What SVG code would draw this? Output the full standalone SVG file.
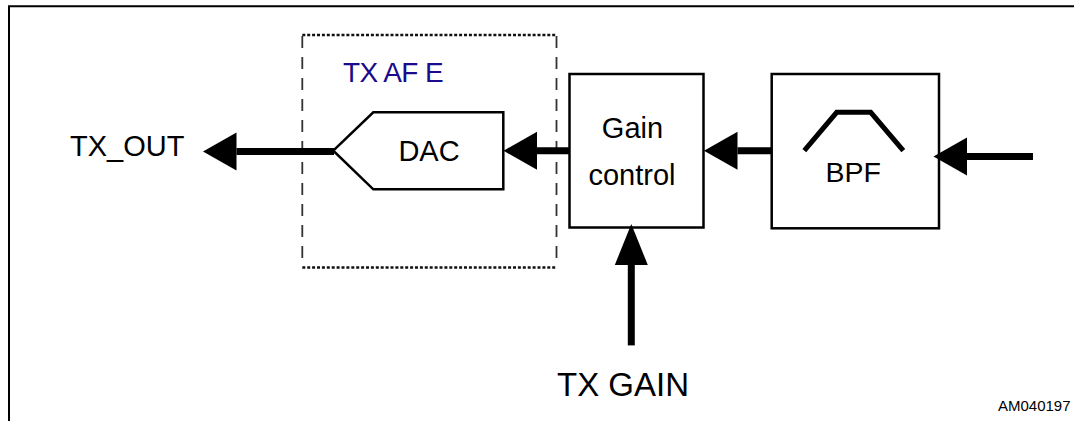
<svg xmlns="http://www.w3.org/2000/svg" width="1074" height="421" viewBox="0 0 1074 421">
  <style>
    .lbl { font-family: "Liberation Sans", Arial, sans-serif; fill: #000; }
    .box { fill: #fff; stroke: #000; stroke-width: 2.5; }
    .wire { stroke: #000; stroke-width: 7; fill: none; }
  </style>
  <defs>
    <marker id="headH" markerUnits="userSpaceOnUse" viewBox="0 -19 34 38" refX="0" refY="0" markerWidth="34" markerHeight="38" orient="auto" overflow="visible">
      <path d="M0,-19 L33.5,0 L0,19 Z" fill="#000"/>
    </marker>
    <marker id="headV" markerUnits="userSpaceOnUse" viewBox="0 -17 41 34" refX="0" refY="0" markerWidth="41" markerHeight="34" orient="auto" overflow="visible">
      <path d="M0,-16.5 L41,0 L0,16.5 Z" fill="#000"/>
    </marker>
  </defs>
  <rect width="1074" height="421" fill="#fff"/>

  <!-- frame -->
  <path d="M9,421 V6.3 H1074" fill="none" stroke="#000" stroke-width="2"/>

  <!-- TX AFE dashed region -->
  <g id="tx-afe">
    <path d="M302.3,35 H556.5 M302.3,267.5 H556.5" fill="none" stroke="#111" stroke-width="2.6" stroke-dasharray="3 1.9"/>
    <path d="M302.3,36 V266 M556.5,36 V266" fill="none" stroke="#333" stroke-width="1.8" stroke-dasharray="12 9"/>
    <text class="lbl" x="343" y="81.7" font-size="28" style="fill:#1a0a8c" letter-spacing="-0.6">TX AF E</text>
  </g>

  <g id="dac">
    <path d="M333.3,150.7 L373.3,112.3 H503.3 V189.3 H373.3 Z" class="box" stroke-width="3"/>
    <text class="lbl" x="429" y="160.7" font-size="29" text-anchor="middle">DAC</text>
  </g>

  <g id="gain-control">
    <rect x="569.5" y="74" width="134" height="153.5" class="box"/>
    <text class="lbl" x="632.5" y="138.3" font-size="29" text-anchor="middle">Gain</text>
    <text class="lbl" x="632" y="185" font-size="29" text-anchor="middle">control</text>
  </g>

  <g id="bpf">
    <rect x="771.7" y="74" width="167.3" height="154.3" class="box"/>
    <polyline points="804.3,150.7 836.7,112.3 870.7,112.3 903.3,150.7" fill="none" stroke="#000" stroke-width="5"/>
    <text class="lbl" x="853.3" y="181.7" font-size="28.5" text-anchor="middle">BPF</text>
  </g>

  <g id="tx-out">
    <text class="lbl" x="70" y="156" font-size="29">TX_OUT</text>
  </g>
  <g id="tx-gain">
    <text class="lbl" x="623" y="395.6" font-size="33" text-anchor="middle">TX GAIN</text>
  </g>

  <g id="connectors">
    <line class="wire" x1="334" y1="151.5" x2="236.5" y2="151.5" marker-end="url(#headH)"/>
    <line class="wire" x1="569.5" y1="150.7" x2="537" y2="150.7" marker-end="url(#headH)"/>
    <line class="wire" x1="771.7" y1="150.7" x2="737.5" y2="150.7" marker-end="url(#headH)"/>
    <line class="wire" x1="1033" y1="156.5" x2="967" y2="156.5" marker-end="url(#headH)"/>
    <line class="wire" x1="631.3" y1="345.4" x2="631.3" y2="265" marker-end="url(#headV)"/>
  </g>

  <text class="lbl" x="998" y="411" font-size="15">AM040197</text>
</svg>
